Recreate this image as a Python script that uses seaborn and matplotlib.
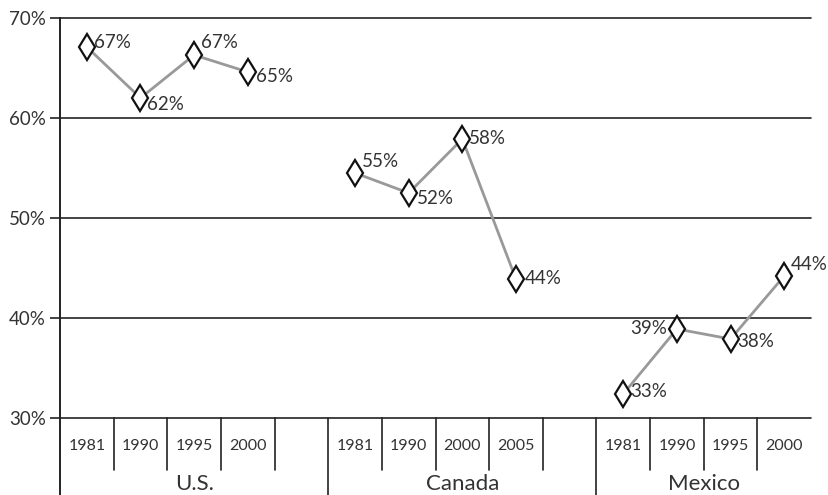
import matplotlib.pyplot as plt
import matplotlib.transforms as mtransforms
import pandas as pd
import seaborn as sns

# Data
countries = ['U.S.', 'Canada', 'Mexico']
years = {
    'U.S.': ['1981', '1990', '1995', '2000'],
    'Canada': ['1981', '1990', '2000', '2005'],
    'Mexico': ['1981', '1990', '1995', '2000'],
}
values = {
    'U.S.': [67.1, 62.0, 66.3, 64.6],
    'Canada': [54.5, 52.5, 57.9, 43.9],
    'Mexico': [32.4, 38.9, 37.9, 44.2],
}
labels = {
    'U.S.': ['67%', '62%', '67%', '65%'],
    'Canada': ['55%', '52%', '58%', '44%'],
    'Mexico': ['33%', '39%', '38%', '44%'],
}
# label placement (dx, dy in points, ha)
label_offsets = {
    'U.S.': [(5, 3, 'left'), (5, -5, 'left'), (5, 9, 'left'), (6, -3, 'left')],
    'Canada': [(5, 8, 'left'), (6, -4, 'left'), (5, 0, 'left'), (6, 0, 'left')],
    'Mexico': [(5, 2, 'left'), (-7, 0, 'right'), (5, -2, 'left'), (5, 8, 'left')],
}
gap_after = {'U.S.': 1, 'Canada': 1, 'Mexico': 0}
yticks = [30, 40, 50, 60, 70]

FONT = 'Lato'
TXT = '#333333'

# Build slot positions from category order
rows = []
group_spans = []
slot = 0
for c in countries:
    start = slot
    for yr, v, lab in zip(years[c], values[c], labels[c]):
        rows.append({'country': c, 'year': yr, 'slot': slot + 0.5, 'value': v, 'label': lab})
        slot += 1
    slot += gap_after[c]
    group_spans.append((c, start, slot))
n_slots = slot
df = pd.DataFrame(rows)

sns.set_style('white')
plt.rcParams['font.family'] = [FONT, 'DejaVu Sans']

fig = plt.figure(figsize=(8.29, 4.95), dpi=100)
ax = fig.add_axes([60 / 829, 1 - 418 / 495, 751 / 829, 400 / 495])

sns.lineplot(data=df, x='slot', y='value', units='country', estimator=None, sort=False,
             color='#999999', linewidth=2, marker='d', markersize=13,
             markerfacecolor='white', markeredgecolor='#111111', markeredgewidth=1.6,
             ax=ax, zorder=3)

for c in countries:
    sub = df[df['country'] == c]
    for (_, r), (dx, dy, ha) in zip(sub.iterrows(), label_offsets[c]):
        ax.annotate(r['label'], (r['slot'], r['value']), xytext=(dx, dy),
                    textcoords='offset points', ha=ha, va='center',
                    fontsize=13.5, color=TXT)

ax.set_xlim(0, n_slots)
ax.set_ylim(30, 70)
ax.set_yticks(yticks)
ax.set_yticklabels([f'{t}%' for t in yticks], fontsize=13.5, color=TXT)
ax.set_xticks([])
ax.set_xlabel('')
ax.set_ylabel('')
for t in yticks:
    ax.axhline(t, color='#222222', linewidth=1.2, zorder=1, clip_on=False)
for s in ['top', 'right', 'bottom']:
    ax.spines[s].set_visible(False)
ax.spines['left'].set_color('#222222')
ax.spines['left'].set_linewidth(1.4)
ax.tick_params(axis='y', left=True, length=7, width=1.2, color='#222222', pad=3)

# category axis below the plot
trans = mtransforms.blended_transform_factory(ax.transData, ax.transAxes)
for i, (c, start, end) in enumerate(group_spans):
    for k in range(start, end):
        idx = k - start
        if idx < len(years[c]):
            ax.text(k + 0.5, -0.07, years[c][idx], transform=trans, ha='center', va='center',
                    fontsize=11.5, color=TXT)
        if k + 1 < end:
            ax.plot([k + 1, k + 1], [0, -0.13], transform=trans, color='#222222',
                    linewidth=1.2, clip_on=False)
    ax.text((start + end) / 2, -0.165, c, transform=trans, ha='center', va='center',
            fontsize=16, color=TXT)
    if start > 0:
        ax.plot([start, start], [0, -0.2], transform=trans, color='#222222',
                linewidth=1.2, clip_on=False)
ax.plot([0, 0], [0, -0.2], transform=trans, color='#222222', linewidth=1.4, clip_on=False)

fig.savefig('out.png', dpi=100)
